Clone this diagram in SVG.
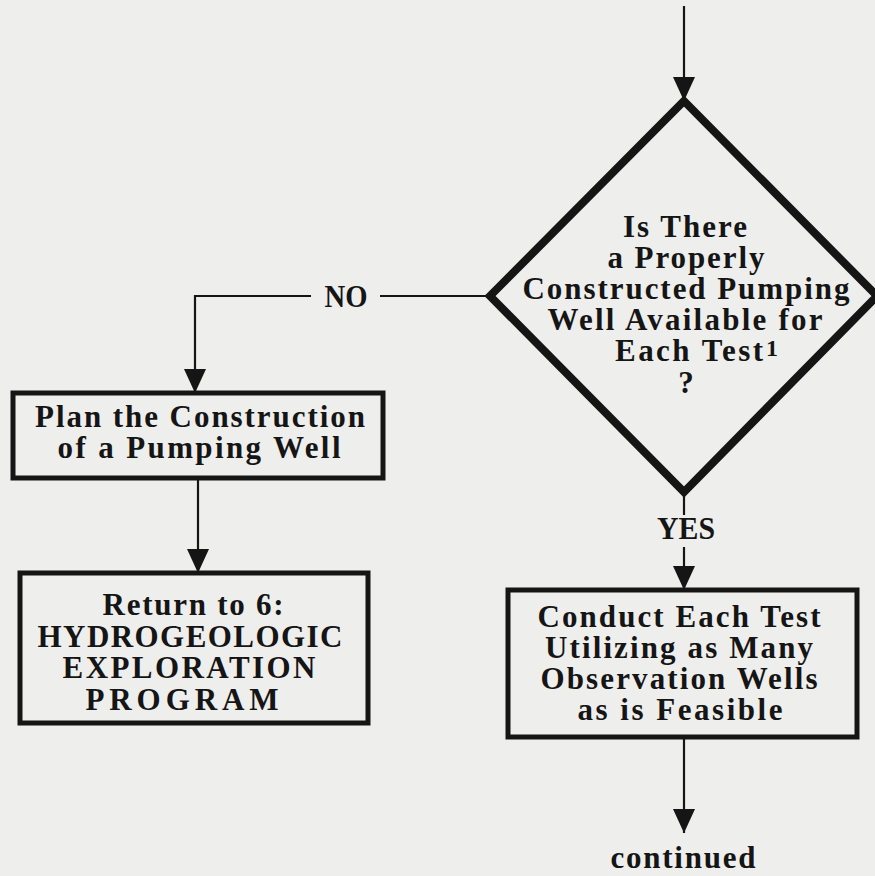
<svg xmlns="http://www.w3.org/2000/svg" width="875" height="876" viewBox="0 0 875 876">
  <defs>
    <marker id="head" markerUnits="userSpaceOnUse" markerWidth="24" markerHeight="22" refX="24" refY="11" orient="auto" viewBox="0 0 24 22">
      <polygon points="0,0 24,11 0,22" fill="#151515"/>
    </marker>
    <style>
      .bg { fill: #eeeeec; }
      .box { fill: none; stroke: #151515; stroke-width: 5; }
      .dia { fill: none; stroke: #151515; stroke-width: 8; stroke-linejoin: miter; }
      .wire { fill: none; stroke: #151515; stroke-width: 2.2; }
      .lbl { font-family: "Liberation Serif", "Times New Roman", serif; font-weight: bold; font-size: 31px; fill: #151515; text-anchor: middle; }
      .sup { font-family: "Liberation Serif", "Times New Roman", serif; font-weight: bold; font-size: 24px; fill: #151515; }
    </style>
  </defs>

  <rect class="bg" x="0" y="0" width="875" height="876"/>

  <!-- connectors -->
  <g id="connectors">
    <line class="wire" x1="684" y1="6" x2="684" y2="101" stroke-width="1.6" marker-end="url(#head)"/>
    <polyline class="wire" points="490,296 380,296"/>
    <polyline class="wire" points="311,296 195,296 195,393" marker-end="url(#head)"/>
    <text class="lbl" x="346" y="307" textLength="43" lengthAdjust="spacingAndGlyphs">NO</text>
    <line class="wire" x1="198" y1="478" x2="198" y2="573" marker-end="url(#head)"/>
    <line class="wire" x1="684" y1="492" x2="684" y2="515"/>
    <text class="lbl" x="686" y="539" font-size="26" textLength="58" lengthAdjust="spacingAndGlyphs">YES</text>
    <line class="wire" x1="684" y1="547" x2="684" y2="590" marker-end="url(#head)"/>
    <line class="wire" x1="684" y1="737" x2="684" y2="833" marker-end="url(#head)"/>
    <text class="lbl" x="683" y="868" textLength="145" lengthAdjust="spacing">continued</text>
  </g>

  <!-- decision -->
  <g id="decision">
    <polygon class="dia" points="684,101 877,296 684,492 490,296"/>
    <text class="lbl" x="685" y="237" textLength="124" lengthAdjust="spacing">Is There</text>
    <text class="lbl" x="686" y="268" textLength="157" lengthAdjust="spacing">a Properly</text>
    <text class="lbl" x="686" y="299" textLength="327" lengthAdjust="spacing">Constructed Pumping</text>
    <text class="lbl" x="685" y="330" textLength="275" lengthAdjust="spacing">Well Available for</text>
    <text class="lbl" x="689" y="361" textLength="148" lengthAdjust="spacing">Each Test</text>
    <text class="sup" x="766" y="356">1</text>
    <text class="lbl" x="686" y="393">?</text>
  </g>

  <!-- plan construction -->
  <g id="plan">
    <rect class="box" x="13" y="393" width="370" height="85"/>
    <text class="lbl" x="200" y="427" textLength="330" lengthAdjust="spacing">Plan the Construction</text>
    <text class="lbl" x="199" y="458" textLength="283" lengthAdjust="spacing">of a Pumping Well</text>
  </g>

  <!-- return to exploration -->
  <g id="return">
    <rect class="box" x="20" y="573" width="348" height="150"/>
    <text class="lbl" x="193" y="615" textLength="181" lengthAdjust="spacing">Return to 6:</text>
    <text class="lbl" x="190" y="647" textLength="305" lengthAdjust="spacing">HYDROGEOLOGIC</text>
    <text class="lbl" x="189" y="678" textLength="253" lengthAdjust="spacing">EXPLORATION</text>
    <text class="lbl" x="182" y="710" textLength="193" lengthAdjust="spacing">PROGRAM</text>
  </g>

  <!-- conduct test -->
  <g id="conduct">
    <rect class="box" x="508" y="590" width="349" height="147"/>
    <text class="lbl" x="679" y="627" textLength="283" lengthAdjust="spacing">Conduct Each Test</text>
    <text class="lbl" x="679" y="658" textLength="268" lengthAdjust="spacing">Utilizing as Many</text>
    <text class="lbl" x="679" y="689" textLength="277" lengthAdjust="spacing">Observation Wells</text>
    <text class="lbl" x="680" y="720" textLength="205" lengthAdjust="spacing">as is Feasible</text>
  </g>
</svg>
